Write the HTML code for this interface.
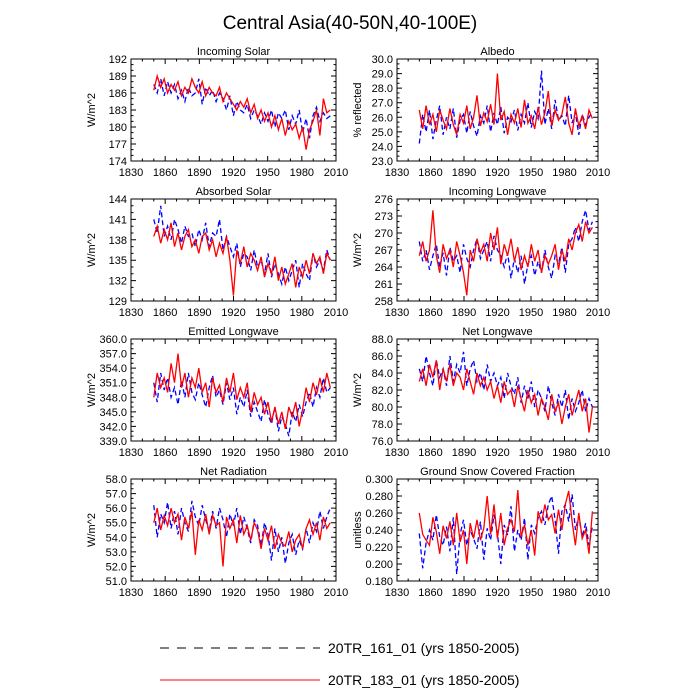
<!DOCTYPE html>
<html><head><meta charset="utf-8"><style>
body{margin:0;background:#fff;}
svg{display:block;font-family:"Liberation Sans",sans-serif;}
</style></head><body>
<svg id="c" width="700" height="700">
<text x="350" y="29" text-anchor="middle" font-size="19">Central Asia(40-50N,40-100E)</text>
<g>
<line x1="160" y1="648" x2="320" y2="648" stroke="#000" stroke-width="1" stroke-dasharray="9,8"/>
<text x="328" y="653" font-size="14">20TR_161_01 (yrs 1850-2005)</text>
<line x1="160" y1="680" x2="320" y2="680" stroke="#f00" stroke-width="1"/>
<text x="328" y="685" font-size="14">20TR_183_01 (yrs 1850-2005)</text>
</g>
</svg>
<script>
const xTicks=[1830,1860,1890,1920,1950,1980,2010];
const firstYear=1850, lastYear=2005;
const titles=["Incoming Solar","Albedo","Absorbed Solar","Incoming Longwave","Emitted Longwave","Net Longwave","Net Radiation","Ground Snow Covered Fraction"];
const yTitles=["W/m^2","% reflected","W/m^2","W/m^2","W/m^2","W/m^2","W/m^2","unitless"];
const yMins=[174,23,129,258,339,76,51,0.18];
const yMaxs=[192,30,144,276,360,88,58,0.30];
const ySteps=[3,1,3,3,3,2,1,0.02];
const yDec=[0,1,0,0,1,1,1,3];
const red1=[186.5,189,187,188.5,186,187.5,186.5,188,185.5,187,186,188.5,187,186,188,185.5,187,186,185.5,187,184.5,186,185,184,183,184.5,183.5,185,182.5,184,181.5,183,181,182.5,180,182,179.5,181.5,178.5,181,179.5,180.5,178,180,176,179.5,181,183,178.5,185,182.5,183];
const blue1=[187.5,186,188.5,185.5,188,186,187.5,185,186.5,184.5,187,185.5,186,188.5,184,187,185.5,186.5,184.5,186,185,183,185.5,182,184.5,183,182.5,184,181.5,183,182,180.5,182.5,181,183,180,182.5,181.5,183,179.5,182,180.5,183,179,181.5,178,182,183.5,181,182.5,181.5,182];
const red2=[26.5,25.2,26.8,25.5,26.2,25,26.5,25.8,25.2,26.6,25.5,24.8,26.2,25.6,26.8,25.2,26,27.5,25.4,26.3,25.7,26.9,25.5,29,25.8,26.4,24.8,26.2,25.6,26.6,25.3,27.2,25.6,26.1,25.2,26.7,25.5,26.3,27.8,25.4,26.5,25.8,26.2,27.4,25.6,24.8,26.6,25.4,26.1,25.2,26.5,25.9];
const blue2=[24.2,26.2,25,26.5,24.5,25.8,26.8,24.8,26,25.2,26.6,24.6,25.8,26.2,24.9,26.4,25.4,24.7,26.1,25.6,26.8,25,26.3,25.5,26.7,24.9,26,25.7,26.5,25.1,26.2,25.6,27,25.3,26.4,25.9,29.2,25.5,26.6,25.2,27.2,25.8,26.1,25.4,27.5,25.6,26.3,24.8,26.2,25.5,26,26.4];
const red3=[138.5,140,137.5,139.5,138,140.5,137,139,136.5,138.5,139.5,137,138,136,138.5,139,136.5,138,135.5,137.5,136,138.5,135,129.8,136.5,134.5,137,134,136,135,133.5,135.5,132.5,134.5,133,135.5,132,134,131.5,133,134.5,131,134,132.5,135,133,136,134.5,135.5,133,136,135];
const blue3=[141,139,143,138.5,140,138,141,139.5,137.5,140,138.5,139,137,139.5,138,140.5,137,139,138.5,141,136.5,138.5,137,135.5,137.5,134,136,135.5,133.5,136.5,134,135,133,136,132.5,134.5,133,131.5,134,132,133.5,135,131,134.5,133,132,136,134,135,133.5,136.5,135];
const red4=[266,268.5,265,267,274,266,263,268,265.5,267,264,268.5,266,263,259,267,265,269,266.5,268,265,270,267,271,264.5,268,266,269,265,267.5,263.5,266,264,268,265,267,263,266,264.5,266,268,263.5,267,265,269,267,270,271.5,268.5,272,270,271];
const blue4=[268.5,265,267,263.5,266,268,264,266.5,262.5,267.5,265,266,263,268,265.5,264,267,269,265.5,267,268.5,265,269.5,267,266,264,266.5,262,265.5,263,266,261,264.5,266,262.5,265,263,267,264,262,266,264.5,267.5,263,268,269,271,268.5,272,274,270.5,272];
const red5=[348,353,350,352,349,355,351,357,350,353,348,352,350,354,349,351,346,352,349,350.5,347,352,349,353,347.5,350,348,351,345,349,346.5,348,344.5,347,343,346,342.5,345,341.5,346,344,347,342,345.5,350,347,351,348.5,352,349,353,350];
const blue5=[351,347,353,349.5,352,348,350,346.5,351.5,348,353,349,347.5,351,348.5,346,350,352.5,348,349.5,346.5,351,347.5,350,344.5,348,346,349.5,344,347,345,343,347.5,344.5,342.5,346,341,344,342.5,340,345,343,346.5,344,347,349,346,350,348,352,349,350];
const red6=[83,84.5,82.5,85,83.5,85.5,82,84.5,83,85,82.5,84,83.5,82,84.5,83,81.5,84,82.5,83.5,82,83,81,82.5,80.5,83,81.5,82,80,82.5,81,79.5,82,80.5,81.5,79,81,80,78.5,81.5,79.5,80.5,78,80,81.5,79,80.5,82,79.5,81,77,80];
const blue6=[84.5,83,86,84,82.5,85.5,83.5,84.5,82.5,86,83,85,84,86.5,82.5,84.5,85.5,83,84,82,85,83,84,82.5,83.5,81,84,82.5,81.5,83.5,80.5,82.5,81,83,80,82,81,79.5,82.5,80.5,79,81.5,80,82,78.5,81,79.5,80.5,82,79.5,81,80];
const red7=[55,56,54.5,55.5,54.8,56,55,55.6,53.8,55.4,54.6,55.8,52.8,55.2,54.5,55.6,54.2,55.5,54.8,55,52,55.4,54.6,55.2,53.6,55.5,54.2,54.8,53.8,55,54.5,53.2,54.6,53.8,54.8,53.2,54.2,53.6,53.4,54.4,53,53.8,54.2,53.2,54.6,55.2,54.2,55,53.8,55.4,54.6,55];
const blue7=[56.2,54,55.6,55,56.4,54.6,55.8,54.2,56,55,54.4,56.5,55.4,54.8,56.2,55.2,54.4,55.8,54.6,56,55.2,54,55.6,54.8,56,54.2,55.4,54.6,53.6,55.2,54.8,53.4,55,54.2,52.4,54.6,53,54,52.2,53.6,54.2,52.8,53.8,53.2,54.6,53.6,55,54.4,55.8,54.6,55.4,56];
const red8=[0.26,0.235,0.228,0.222,0.255,0.238,0.212,0.245,0.23,0.25,0.222,0.26,0.226,0.24,0.2,0.248,0.23,0.252,0.228,0.242,0.28,0.235,0.27,0.23,0.26,0.222,0.242,0.252,0.238,0.287,0.232,0.246,0.222,0.24,0.21,0.262,0.248,0.27,0.252,0.258,0.236,0.264,0.24,0.27,0.286,0.25,0.222,0.26,0.23,0.24,0.212,0.262];
const blue8=[0.236,0.195,0.225,0.24,0.228,0.258,0.232,0.222,0.244,0.215,0.255,0.188,0.235,0.252,0.222,0.24,0.23,0.218,0.25,0.205,0.242,0.228,0.258,0.236,0.2,0.246,0.234,0.268,0.215,0.24,0.228,0.254,0.205,0.246,0.236,0.254,0.262,0.246,0.27,0.28,0.252,0.212,0.262,0.27,0.25,0.282,0.24,0.256,0.232,0.248,0.222,0.244];
const reds=[red1,red2,red3,red4,red5,red6,red7,red8];
const blues=[blue1,blue2,blue3,blue4,blue5,blue6,blue7,blue8];
const NS="http://www.w3.org/2000/svg";
const svg=document.getElementById('c');
function mk(t,a,p){const e=document.createElementNS(NS,t);for(const k in a)e.setAttribute(k,a[k]);(p||svg).appendChild(e);return e;}
for(let p=0;p<8;p++){
  const col=p%2,row=Math.floor(p/2);
  const L=col?397:131,R=col?598:336,T=59+row*140,B=T+102;
  const g=mk('g',{});
  
  
  const xs=v=>L+(v-1830)/180*(R-L);
  const ys=v=>B-(v-yMins[p])/(yMaxs[p]-yMins[p])*(B-T);
  const t=mk('text',{x:(L+R)/2,y:T-4,'text-anchor':'middle','font-size':'11'},g);t.textContent=titles[p];
  
  const yt=mk('text',{x:0,y:0,'text-anchor':'middle','font-size':'11',transform:`translate(${L-36},${(T+B)/2}) rotate(-90)`},g);yt.textContent=yTitles[p];
  
  let d='';
  for(const x of xTicks){const X=xs(x);d+=`M${X},${B}v-5M${X},${T}v5`;
    const tx=mk('text',{x:X,y:B+15,'text-anchor':'middle','font-size':'11'},g);tx.textContent=x;
    }
  for(let x=1840;x<2010;x+=10){if((x-1830)%30){const X=xs(x);d+=`M${X},${B}v-2.5M${X},${T}v2.5`;}}
  const n=Math.round((yMaxs[p]-yMins[p])/ySteps[p]);
  for(let i=0;i<=n;i++){const v=yMins[p]+i*ySteps[p],Y=ys(v);d+=`M${L},${Y}h5M${R},${Y}h-5`;
    const ty=mk('text',{x:L-4,y:Y+4,'text-anchor':'end','font-size':'11'},g);ty.textContent=v.toFixed(yDec[p]);
    
    if(i<n){for(let k=1;k<3;k++){const Ym=ys(v+ySteps[p]*k/3);d+=`M${L},${Ym}h2.5M${R},${Ym}h-2.5`;}}}
  const ax=mk('path',{d:d,stroke:'#000','stroke-width':'1',fill:'none'},g);
  
  const mkLine=(arr,color,dash,name)=>{
    const st=(lastYear-firstYear)/(arr.length-1);
    const pts=arr.map((v,i)=>xs(firstYear+i*st).toFixed(1)+','+ys(v).toFixed(1)).join(' ');
    const pl=mk('polyline',{points:pts,fill:'none',stroke:color,'stroke-width':'1.3'},g);
    if(dash)pl.setAttribute('stroke-dasharray',dash);
    
    
  };
  mkLine(blues[p],'#00f','5,3','series-161');
  mkLine(reds[p],'#f00',null,'series-183');
  const bx=mk('rect',{x:L,y:T,width:R-L,height:B-T,fill:'none',stroke:'#000','stroke-width':'1'},g);
  
}
</script>
</body></html>
